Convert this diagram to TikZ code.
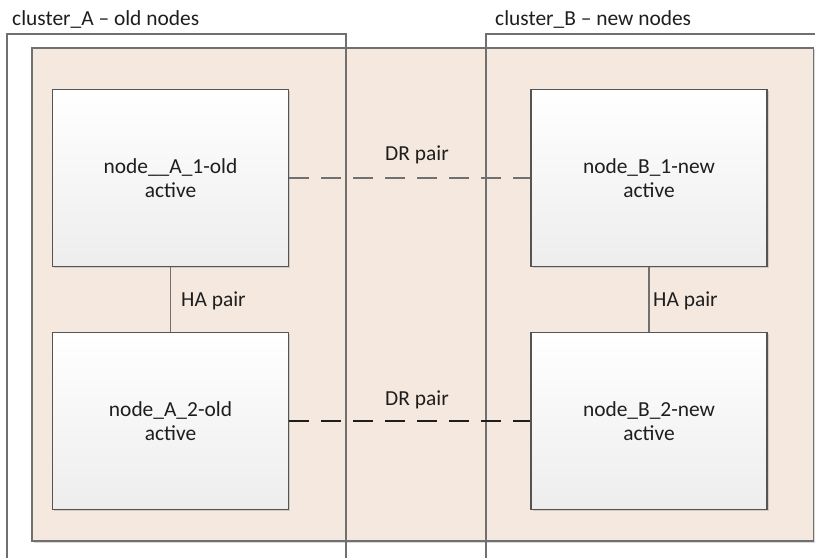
\documentclass[tikz,border=0pt]{standalone}
\usepackage{fontspec}
\setmainfont{Carlito}
\usetikzlibrary{shadows}
\definecolor{peach}{HTML}{F5E9DF}
\definecolor{edge}{HTML}{707070}
\definecolor{ink}{HTML}{1E1E1E}

\begin{document}
\begin{tikzpicture}[x=1bp, y=-1bp, font=\fontsize{21.5}{24}\selectfont, text=ink,
	box/.style={draw=edge!75!black, line width=1.6bp, top color=white, bottom color=black!7, minimum width=236bp, minimum height=177bp, align=center, drop shadow={shadow xshift=1.5bp, shadow yshift=-1.5bp, opacity=0.3}},
	txt/.style={inner sep=0pt, anchor=base west},
	ha/.style={draw=edge, line width=1.6bp},
	dr/.style={line width=2.2bp, dash pattern=on 20bp off 12bp}]

	\useasboundingbox (0,0) rectangle (815,558);

	\draw [edge, line width=1.6bp, fill=peach, drop shadow={shadow xshift=1.5bp, shadow yshift=-1.5bp, opacity=0.3}] (32,48) rectangle (813.5,541);
	\draw [edge, line width=1.6bp] (7,558) -- (7,34) -- (346,34) -- (346,558);
	\draw [edge, line width=1.6bp] (486,558) -- (486,34) -- (815,34);
	\node [txt] (clA) at (12,26) {cluster\_A -- old nodes};
	\node [txt] (clB) at (495,26) {cluster\_B -- new nodes};

	\node [box] (nA1) at (170.5,178) {node\_\_A\_1-old\\active};
	\node [box] (nB1) at (649,178) {node\_B\_1-new\\active};
	\node [box] (nA2) at (170.5,421) {node\_A\_2-old\\active};
	\node [box] (nB2) at (649,421) {node\_B\_2-new\\active};

	\draw [ha] (nA1) -- (nA2);
	\draw [ha] (nB1) -- (nB2);
	\node [txt] (haA) at (181,307) {HA pair};
	\node [txt] (haB) at (653,307) {HA pair};

	\draw [dr, edge] (nA1) -- (nB1);
	\draw [dr, ink] (nA2) -- (nB2);
	\node [txt] (drT) at (385,161) {DR pair};
	\node [txt] (drB) at (385,405) {DR pair};

\end{tikzpicture}
\end{document}
